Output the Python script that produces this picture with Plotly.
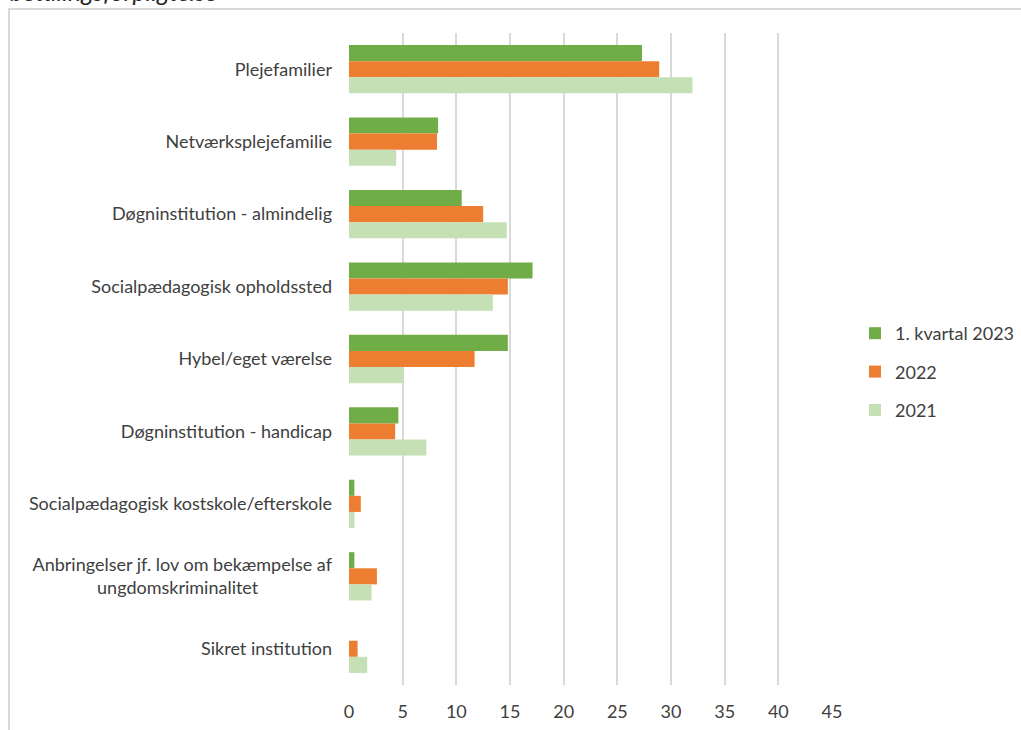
import plotly.graph_objects as go

categories = [
    "Plejefamilier",
    "Netværksplejefamilie",
    "Døgninstitution - almindelig",
    "Socialpædagogisk opholdssted",
    "Hybel/eget værelse",
    "Døgninstitution - handicap",
    "Socialpædagogisk kostskole/efterskole",
    "Anbringelser jf. lov om bekæmpelse af<br>ungdomskriminalitet" + "\u00a0" * 16,
    "Sikret institution",
]
series_names = ["1. kvartal 2023", "2022", "2021"]
values_2023q1 = [27.3, 8.3, 10.5, 17.1, 14.8, 4.6, 0.5, 0.5, 0.0]
values_2022 = [28.9, 8.2, 12.5, 14.8, 11.7, 4.3, 1.1, 2.6, 0.8]
values_2021 = [32.0, 4.4, 14.7, 13.4, 5.1, 7.2, 0.5, 2.1, 1.7]
x_ticks = [0, 5, 10, 15, 20, 25, 30, 35, 40, 45]
colors = ["#70AD47", "#ED7D31", "#C5E0B4"]

W, H = 1021, 730
L, R, T, B = 349, 1021 - 832, 33, 730 - 685
pw, ph = W - L - R, H - T - B

fig = go.Figure()
for i, (name, vals) in enumerate(zip(series_names, [values_2023q1, values_2022, values_2021])):
    fig.add_trace(go.Bar(
        y=categories, x=vals, name=name, orientation="h",
        marker=dict(color=colors[i], line=dict(width=0)),
        legendgroup=f"g{i}",
    ))

font_fam = "Lato, 'Open Sans', sans-serif"
FS = 18
fig.update_layout(
    width=W, height=H,
    margin=dict(l=L, r=R, t=T, b=B, autoexpand=False),
    paper_bgcolor="white", plot_bgcolor="white",
    barmode="group", bargap=1/3, bargroupgap=0,
    font=dict(family=font_fam, size=FS, color="#404040"),
    xaxis=dict(range=[0, 45], tickvals=x_ticks, showgrid=True, gridcolor="#d9d9d9", gridwidth=1.5,
               zeroline=False, showline=False, ticks="", ticklabelstandoff=14,
               tickfont=dict(size=FS, color="#404040")),
    yaxis=dict(autorange="reversed", showgrid=False, zeroline=False, showline=False, ticks="",
               ticklabelstandoff=16, tickfont=dict(size=FS, color="#404040")),
    legend=dict(x=(855 - L) / pw, y=1 - (315 - T) / ph,
                xanchor="left", yanchor="top", traceorder="grouped",
                tracegroupgap=12, font=dict(size=FS, color="#404040"),
                itemwidth=30, bgcolor="rgba(0,0,0,0)"),
    showlegend=True,
)

# outer chart border
fig.add_shape(type="rect", xref="paper", yref="paper",
              x0=(9 - L) / pw, x1=(1040 - L) / pw, y0=-(760 - T - ph) / ph, y1=1 + (T - 9) / ph,
              line=dict(color="#d9d9d9", width=2), fillcolor="rgba(0,0,0,0)", layer="below")

# clipped caption above chart
fig.add_annotation(text="<i>betalingsforpligtelse</i>", xref="paper", yref="paper",
                   x=(8 - L) / pw, y=1 + (T - 8) / ph, xanchor="left", yanchor="bottom",
                   showarrow=False, font=dict(size=25, color="#262626", family=font_fam))

fig.write_html("out.html", config={"displayModeBar": False},
               post_script="document.body.style.margin='0';document.body.style.overflow='hidden';")
